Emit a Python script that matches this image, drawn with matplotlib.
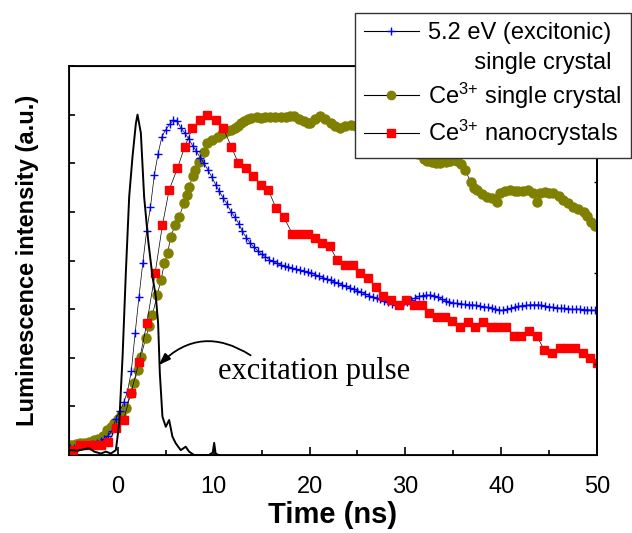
import numpy as np
import matplotlib
matplotlib.use('Agg')
import matplotlib.pyplot as plt
from matplotlib.lines import Line2D

plt.rcParams['font.family'] = ['Liberation Sans', 'DejaVu Sans']
plt.rcParams['mathtext.default'] = 'regular'

# excitation pulse (solid black line)
pulse_t = [-4.9, -4.2, -3.5, -3.0, -2.47, -1.77, -1.25, -0.73, -0.21, 0.14, 0.49, 0.83,
           1.18, 1.53, 1.88, 2.05, 2.40, 2.74, 3.16, 3.61, 3.96, 4.2, 4.38, 4.65, 5.0,
           5.35, 5.69, 6.04, 6.56, 7.08, 7.43, 7.95, 8.5, 9.5, 9.9, 10.05, 10.2, 10.5]
pulse_y = [0.10, 0.09, 0.12, 0.14, 0.07, 0.03, 0.07, 0.03, 0.10, 0.65, 2.02, 3.74,
           5.31, 6.14, 6.82, 7.0, 6.62, 5.31, 4.42, 3.67, 3.26, 2.71, 1.68, 0.79, 0.58,
           0.72, 0.38, 0.24, 0.10, 0.17, 0.07, 0.0, 0.0, 0.0, 0.05, 0.25, 0.03, 0.0]

# 5.2 eV (excitonic) single crystal, sampled every 0.4 ns from -5 ns
exc_t = np.arange(-5.0, 49.9, 0.4)
exc_y = [0.15, 0.15, 0.17, 0.18, 0.20, 0.20, 0.22, 0.25, 0.28, 0.33, 0.40, 0.50,
         0.75, 0.90, 1.08, 1.30, 1.72, 2.50, 3.25, 3.95, 4.60, 5.10, 5.75, 6.20,
         6.55, 6.69, 6.80, 6.89, 6.86, 6.72, 6.62, 6.50, 6.36, 6.25, 6.11, 6.00,
         5.86, 5.72, 5.56, 5.42, 5.28, 5.16, 5.00, 4.90, 4.76, 4.60, 4.47, 4.36,
         4.28, 4.20, 4.13, 4.08, 4.02, 3.98, 3.94, 3.91, 3.89, 3.86, 3.84, 3.82,
         3.80, 3.78, 3.76, 3.74, 3.71, 3.68, 3.65, 3.62, 3.59, 3.56, 3.53, 3.50,
         3.47, 3.44, 3.41, 3.38, 3.35, 3.31, 3.28, 3.25, 3.22, 3.20, 3.17, 3.14,
         3.11, 3.09, 3.09, 3.11, 3.15, 3.19, 3.23, 3.26, 3.28, 3.29, 3.29, 3.28,
         3.25, 3.20, 3.17, 3.15, 3.13, 3.12, 3.11, 3.10, 3.09, 3.09, 3.08, 3.06,
         3.05, 3.04, 3.02, 3.00, 2.98, 2.98, 3.00, 3.02, 3.04, 3.06, 3.07, 3.08,
         3.09, 3.09, 3.09, 3.08, 3.06, 3.05, 3.04, 3.03, 3.02, 3.02, 3.01, 3.00,
         3.00, 3.00, 2.99, 2.99, 2.98, 2.98]

# Ce3+ single crystal
ce_sc_t = [-4.9, -4.4, -4.0, -3.5, -3.0, -2.5, -2.1, -1.6, -1.1, -0.7, -0.4, 0.0, 0.3,
           0.8, 1.35, 1.7, 2.05, 2.4, 2.9, 3.25, 3.6, 4.1, 4.5, 4.85, 5.2, 5.5, 6.0,
           6.4, 6.9, 7.2, 7.45, 7.8, 8.1, 8.5, 9.0, 9.35, 9.85, 10.4, 10.9, 11.4, 11.8,
           12.2, 12.5, 12.9, 13.2, 13.6, 13.9, 14.5, 14.9, 15.4, 15.9, 16.4, 17.0,
           17.5, 18.0, 18.4, 18.9, 19.4, 19.8, 20.1, 20.6, 21.1, 21.6, 22.2, 22.7,
           23.2, 23.7, 24.3, 24.8, 25.3, 25.8, 26.3, 26.8, 27.3, 27.8, 28.3, 28.8,
           29.3, 29.8, 30.3, 30.8, 31.3, 31.9, 32.3, 32.8, 33.2, 33.65, 34.2, 34.7,
           35.4, 35.8, 36.25, 36.8, 37.2, 37.5, 38.0, 38.5, 39.0, 39.55, 39.9, 40.4,
           40.9, 41.4, 41.8, 42.3, 42.8, 43.3, 43.7, 44.1, 44.6, 45.0, 45.45, 46.0,
           46.5, 47.0, 47.5, 48.0, 48.6, 49.0, 49.4, 49.8]
ce_sc_y = [0.20, 0.22, 0.24, 0.25, 0.27, 0.30, 0.32, 0.40, 0.51, 0.58, 0.65, 0.75, 0.82,
           0.96, 1.27, 1.48, 1.75, 2.02, 2.40, 2.65, 2.88, 3.29, 3.60, 3.94, 4.15, 4.49, 4.73,
           4.90, 5.18, 5.35, 5.52, 5.73, 5.86, 6.03, 6.24, 6.41, 6.48, 6.55, 6.60, 6.66, 6.69,
           6.72, 6.76, 6.82, 6.86, 6.90, 6.93, 6.96, 6.93, 6.95, 6.96, 6.96, 6.96,
           6.95, 6.97, 6.98, 6.92, 6.86, 6.82, 6.82, 6.90, 6.98, 6.90, 6.82, 6.76,
           6.72, 6.76, 6.79, 6.76, 6.74, 6.72, 6.70, 6.68, 6.66, 6.62, 6.58, 6.52,
           6.46, 6.40, 6.34, 6.26, 6.18, 6.08, 6.04, 6.02, 6.00, 6.00, 6.02, 6.04,
           6.04, 5.98, 5.86, 5.62, 5.50, 5.45, 5.36, 5.31, 5.28, 5.21, 5.38, 5.42,
           5.45, 5.42, 5.42, 5.42, 5.45, 5.38, 5.21, 5.38, 5.40, 5.38, 5.38, 5.32,
           5.25, 5.18, 5.11, 5.06, 5.00, 4.92, 4.80, 4.70]

# Ce3+ nanocrystals
ce_nc_t = [-4.72, -3.95, -3.2, -2.45, -1.75, -1.0, -0.21, 0.6, 1.35, 2.22, 3.02, 3.89,
           4.65, 5.35, 6.22, 6.98, 7.78, 8.58, 9.34, 10.2, 11.0, 11.84, 12.57, 13.33,
           14.1, 14.9, 15.7, 16.5, 17.3, 18.2, 19.0, 19.8, 20.6, 21.3, 22.1, 22.9,
           23.7, 24.5, 25.3, 26.1, 26.9, 27.7, 28.5, 29.3, 30.1, 30.9, 31.7, 32.5,
           33.3, 34.1, 34.9, 35.7, 36.5, 37.3, 38.1, 38.9, 39.7, 40.5, 41.3, 42.1,
           42.9, 43.7, 44.5, 45.3, 46.1, 46.9, 47.7, 48.5, 49.3, 50.0]
ce_nc_y = [0.10, 0.20, 0.21, 0.21, 0.21, 0.27, 0.55, 0.72, 1.27, 1.92, 2.71, 3.74,
           4.73, 5.45, 5.90, 6.34, 6.72, 6.89, 7.00, 6.89, 6.72, 6.34, 6.00, 5.90,
           5.74, 5.56, 5.45, 5.08, 4.90, 4.55, 4.55, 4.55, 4.46, 4.35, 4.29, 4.01,
           3.91, 3.91, 3.74, 3.63, 3.46, 3.27, 3.19, 3.09, 3.19, 3.09, 3.09, 2.92,
           2.83, 2.83, 2.76, 2.64, 2.74, 2.64, 2.74, 2.64, 2.64, 2.64, 2.45, 2.45,
           2.56, 2.45, 2.16, 2.09, 2.20, 2.20, 2.20, 2.09, 2.00, 1.90]

fig = plt.figure(figsize=(6.32, 5.33), dpi=100)
ax = fig.add_axes([69 / 632, 1 - 455 / 533, (597 - 69) / 632, (455 - 66) / 533])

ax.plot(exc_t, exc_y, color='black', lw=0.5, marker='+', ms=6, mew=1.0,
        mec='#0000ff', zorder=3)
ax.plot(ce_sc_t, ce_sc_y, color='black', lw=0.5, marker='o', ms=6.5, mfc='#808000',
        mec='#808000', zorder=2)
ax.plot(ce_nc_t, ce_nc_y, color='black', lw=0.5, marker='s', ms=6, mfc='#ff0000',
        mec='#ff0000', zorder=4)
ax.plot(pulse_t, pulse_y, color='black', lw=1.4, zorder=5)

ax.set_xlim(-5.1, 50)
ax.set_ylim(0, 8)
ax.set_xticks([0, 10, 20, 30, 40, 50])
ax.set_xticks([5, 15, 25, 35, 45], minor=True)
ax.set_yticks(range(0, 9))
ax.set_yticklabels([])
ax.tick_params(axis='x', which='major', direction='in', length=6, width=1.2,
               labelsize=17, pad=15)
ax.tick_params(axis='x', which='minor', direction='in', length=3.6, width=1.2)
ax.tick_params(axis='y', direction='in', length=4, width=1.2)
for s in ax.spines.values():
    s.set_linewidth(1.3)

ax2 = ax.twinx()
ax2.set_ylim(0, 389 / 91)
ax2.set_yticks([1, 2, 3])
ax2.set_yticklabels([])
ax2.tick_params(axis='y', direction='in', length=2.5, width=1.0)
ax2.spines['right'].set_linewidth(1.3)

ax.set_xlabel('Time (ns)', fontsize=21, fontweight='bold', labelpad=2)
ax.set_ylabel('Luminescence intensity (a.u.)', fontsize=17, fontweight='bold', labelpad=18)

ax.text(10.5, 1.71, 'excitation pulse', family='Liberation Serif', fontsize=22,
        ha='left', va='center')
ax.annotate('', xy=(4.27, 1.85), xytext=(13.85, 2.05),
            arrowprops=dict(arrowstyle='-|>,head_length=0.7,head_width=0.25',
                            color='black', lw=1.3, shrinkA=0, shrinkB=0,
                            connectionstyle='arc3,rad=0.4'))

handles = [
    Line2D([], [], color='black', lw=0.8, marker='+', ms=6, mew=1.0, mec='#0000ff'),
    Line2D([], [], color='none', lw=0),
    Line2D([], [], color='black', lw=0.8, marker='o', ms=6, mfc='#808000', mec='#808000'),
    Line2D([], [], color='black', lw=0.8, marker='s', ms=5.5, mfc='#ff0000', mec='#ff0000'),
]
labels = ['5.2 eV (excitonic)', '       single crystal', 'Ce$^{3{+}}$ single crystal',
          'Ce$^{3{+}}$ nanocrystals']
leg = fig.legend(handles, labels, loc='upper right', bbox_to_anchor=(631 / 632, 1 - 13 / 533),
                 fontsize=17, frameon=True, fancybox=False, framealpha=1,
                 edgecolor='#333333', handlelength=2.3, handletextpad=0.4,
                 labelspacing=0.3, borderpad=0.4, borderaxespad=0)
leg.get_frame().set_linewidth(1.0)
leg.set_zorder(10)

fig.savefig('out.png', dpi=100)
